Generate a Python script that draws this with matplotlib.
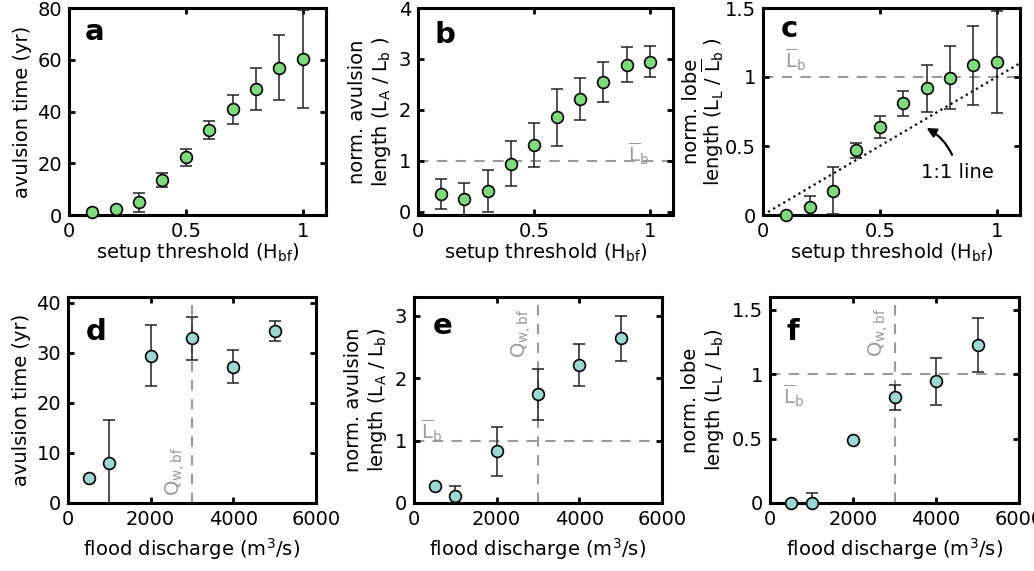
import matplotlib
matplotlib.use("Agg")
from matplotlib import pyplot as plt
from matplotlib.ticker import FuncFormatter

# setup threshold experiments (panels a-c)
threshold = [0.1, 0.2, 0.3, 0.4, 0.5, 0.6, 0.7, 0.8, 0.9, 1.0]
avulsion_time_a = [1.3, 2.3, 4.9, 13.5, 22.3, 33.0, 40.8, 48.6, 57.0, 60.3]
avulsion_time_a_err = [0.0, 0.5, 3.7, 2.7, 3.3, 3.5, 5.5, 8.2, 12.7, 19.0]
avulsion_len_b = [0.35, 0.25, 0.41, 0.95, 1.32, 1.86, 2.21, 2.55, 2.89, 2.95]
avulsion_len_b_err = [0.29, 0.32, 0.41, 0.44, 0.43, 0.56, 0.41, 0.40, 0.35, 0.31]
lobe_len_c = [0.0, 0.056, 0.176, 0.47, 0.64, 0.81, 0.92, 0.995, 1.085, 1.11]
lobe_len_c_err = [0.0, 0.08, 0.17, 0.055, 0.08, 0.09, 0.17, 0.23, 0.285, 0.37]

# flood discharge experiments (panels d-f)
discharge = [500, 1000, 2000, 3000, 4000, 5000]
avulsion_time_d = [5.1, 8.0, 29.5, 33.0, 27.3, 34.5]
avulsion_time_d_err = [0.0, 8.7, 6.1, 4.3, 3.3, 2.0]
avulsion_len_e = [0.28, 0.11, 0.83, 1.74, 2.21, 2.64]
avulsion_len_e_err = [0.0, 0.17, 0.39, 0.41, 0.34, 0.36]
lobe_len_f = [0.0, 0.0, 0.49, 0.82, 0.945, 1.23]
lobe_len_f_err = [0.0, 0.08, 0.0, 0.095, 0.18, 0.21]

q_bankfull = 3000
one_to_one = [0, 1.1]

GREEN = "#7ddb7d"
CYAN = "#9bd8d3"
GREY = "#9a9a9a"
FS = 14

plt.rcParams["font.family"] = "DejaVu Sans"
plt.rcParams["mathtext.default"] = "regular"
plt.rcParams["font.size"] = FS

fig = plt.figure(figsize=(10.34, 5.71), dpi=100)

W, H = 1034, 571


def make_axes(left, right, top, bottom):
    return fig.add_axes([left / W, 1 - bottom / H, (right - left) / W, (bottom - top) / H])


def style(ax, xlim, ylim, xticks, yticks):
    ax.set_xlim(*xlim)
    ax.set_ylim(*ylim)
    ax.set_xticks(xticks)
    ax.set_yticks(yticks)
    fmt = FuncFormatter(lambda v, p: "%g" % v)
    ax.xaxis.set_major_formatter(fmt)
    ax.yaxis.set_major_formatter(fmt)
    ax.tick_params(direction="in", top=True, right=True, length=4, width=2,
                   labelsize=FS, pad=5)
    for s in ax.spines.values():
        s.set_linewidth(2.2)


def points(ax, x, y, err, color):
    ax.errorbar(x, y, yerr=err, fmt="none", ecolor="#222222", elinewidth=1.1,
                capsize=4.5, capthick=1.1, zorder=3)
    ax.plot(x, y, "o", ms=8.5, mfc=color, mec="k", mew=1.2, zorder=4, clip_on=False)


def letter(ax, s, x, y):
    ax.text(x, y, s, transform=ax.transAxes, fontsize=21, fontweight="bold",
            va="baseline", ha="left")


lb = r"$\overline{\mathrm{L}}_\mathrm{b}$"
top_xlabel = "setup threshold (H$_{bf}$)"
bottom_xlabel = "flood discharge (m$^3$/s)"

# panel a
ax = make_axes(69, 326, 8, 215)
points(ax, threshold, avulsion_time_a, avulsion_time_a_err, GREEN)
style(ax, (0, 1.1), (0, 80), [0, 0.5, 1], [0, 20, 40, 60, 80])
ax.set_xlabel(top_xlabel, labelpad=0)
ax.set_ylabel("avulsion time (yr)")
letter(ax, "a", 0.06, 0.845)

# panel b
ax = make_axes(418, 673, 8, 215)
ax.axhline(1, color=GREY, ls="--", lw=1.5, dashes=(5, 4), zorder=1)
points(ax, threshold, avulsion_len_b, avulsion_len_b_err, GREEN)
style(ax, (0, 1.1), (-0.06, 4), [0, 0.5, 1], [0, 1, 2, 3, 4])
ax.text(0.95, 0.88, lb, color=GREY, ha="center", va="bottom", fontsize=FS)
ax.set_xlabel(top_xlabel, labelpad=0)
ax.set_ylabel("norm. avulsion\nlength (L$_A$ / L$_b$ )")
letter(ax, "b", 0.065, 0.83)

# panel c
ax = make_axes(763, 1020, 8, 215)
ax.axhline(1, color=GREY, ls="--", lw=1.5, dashes=(5, 4), zorder=1)
ax.plot(one_to_one, one_to_one, ":", color="k", lw=1.6, zorder=2)
points(ax, threshold, lobe_len_c, lobe_len_c_err, GREEN)
style(ax, (0, 1.1), (0, 1.5), [0, 0.5, 1], [0, 0.5, 1, 1.5])
ax.text(0.14, 1.03, lb, color=GREY, ha="center", va="bottom", fontsize=FS)
ax.annotate("1:1 line", xy=(0.70, 0.63), xytext=(0.83, 0.31), ha="center", va="center",
            fontsize=FS,
            arrowprops=dict(arrowstyle="-|>", color="k", lw=1.6,
                            connectionstyle="arc3,rad=0.25", shrinkA=4, shrinkB=0))
ax.set_xlabel(top_xlabel, labelpad=0)
ax.set_ylabel("norm. lobe\nlength (L$_L$ / " + lb + " )", linespacing=0.95, labelpad=-1)
letter(ax, "c", 0.07, 0.86)

# panel d
ax = make_axes(68, 316, 297, 503)
ax.axvline(q_bankfull, color=GREY, ls="--", lw=1.5, dashes=(5, 4), zorder=1)
points(ax, discharge, avulsion_time_d, avulsion_time_d_err, CYAN)
style(ax, (0, 6000), (0, 41.2), [0, 2000, 4000, 6000], [0, 10, 20, 30, 40])
ax.text(2880, 1.5, "Q$_{w,bf}$", color=GREY, rotation=90, ha="right", va="bottom",
        fontsize=FS)
ax.set_xlabel(bottom_xlabel, labelpad=5)
ax.set_ylabel("avulsion time (yr)")
letter(ax, "d", 0.07, 0.79)

# panel e
ax = make_axes(414, 662, 297, 503)
ax.axvline(q_bankfull, color=GREY, ls="--", lw=1.5, dashes=(5, 4), zorder=1)
ax.axhline(1, color=GREY, ls="--", lw=1.5, dashes=(5, 4), zorder=1)
points(ax, discharge, avulsion_len_e, avulsion_len_e_err, CYAN)
style(ax, (0, 6000), (0, 3.3), [0, 2000, 4000, 6000], [0, 1, 2, 3])
ax.text(2880, 3.12, "Q$_{w,bf}$", color=GREY, rotation=90, ha="right", va="top",
        fontsize=FS)
ax.text(420, 0.95, lb, color=GREY, ha="center", va="bottom", fontsize=FS)
ax.set_xlabel(bottom_xlabel, labelpad=5)
ax.set_ylabel("norm. avulsion\nlength (L$_A$ / L$_b$)")
letter(ax, "e", 0.075, 0.82)

# panel f
ax = make_axes(770, 1019, 297, 503)
ax.axvline(q_bankfull, color=GREY, ls="--", lw=1.5, dashes=(5, 4), zorder=1)
ax.axhline(1, color=GREY, ls="--", lw=1.5, dashes=(5, 4), zorder=1)
points(ax, discharge, lobe_len_f, lobe_len_f_err, CYAN)
style(ax, (0, 6000), (0, 1.6), [0, 2000, 4000, 6000], [0, 0.5, 1, 1.5])
ax.text(2880, 1.52, "Q$_{w,bf}$", color=GREY, rotation=90, ha="right", va="top",
        fontsize=FS)
ax.text(560, 0.93, lb, color=GREY, ha="center", va="top", fontsize=FS)
ax.set_xlabel(bottom_xlabel, labelpad=5)
ax.set_ylabel("norm. lobe\nlength (L$_L$ / L$_b$)")
letter(ax, "f", 0.065, 0.79)

fig.savefig("out.png", dpi=100)
